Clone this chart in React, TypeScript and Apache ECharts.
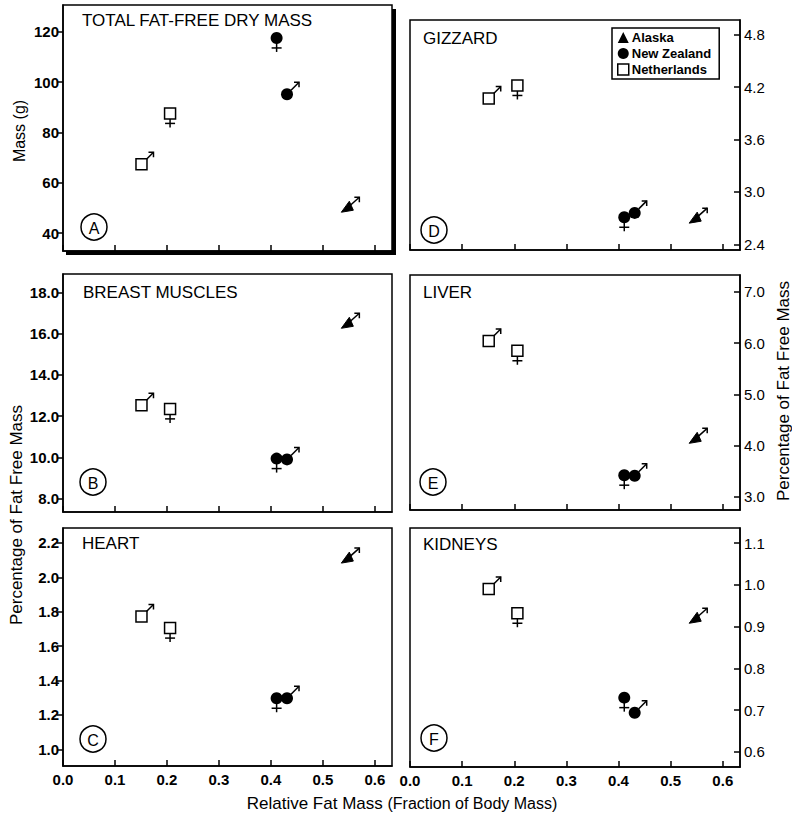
import React, { useEffect, useRef } from 'react';
import * as echarts from 'echarts';

// ---- data ----
const groups = ['Netherlands ♂', 'Netherlands ♀', 'New Zealand ♀', 'New Zealand ♂', 'Alaska ♂'];
const groupSite = ['Netherlands', 'Netherlands', 'New Zealand', 'New Zealand', 'Alaska'];
const groupMale = [1, 0, 0, 1, 1];
const relativeFatMass = [0.151, 0.206, 0.411, 0.431, 0.549];

const totalFatFreeDryMass = [67.4, 87.6, 117.6, 95.2, 50.3];
const gizzard = [4.07, 4.22, 2.71, 2.76, 2.7];
const breastMuscles = [12.53, 12.35, 9.94, 9.9, 16.5];
const liver = [6.04, 5.85, 3.42, 3.41, 4.14];
const heart = [1.772, 1.705, 1.297, 1.297, 2.112];
const kidneys = [0.99, 0.932, 0.73, 0.694, 0.92];

const sites = ['Alaska', 'New Zealand', 'Netherlands'];
const xTicks = [0, 0.1, 0.2, 0.3, 0.4, 0.5, 0.6];
const massTicks = [40, 60, 80, 100, 120];
const gizzardTicks = [2.4, 3.0, 3.6, 4.2, 4.8];
const breastTicks = [8, 10, 12, 14, 16, 18];
const liverTicks = [3, 4, 5, 6, 7];
const heartTicks = [1.0, 1.2, 1.4, 1.6, 1.8, 2.0, 2.2];
const kidneyTicks = [0.6, 0.7, 0.8, 0.9, 1.0, 1.1];

const FONT = 'Liberation Sans, Arial, Helvetica, sans-serif';

const panels = [
  { title: 'TOTAL FAT-FREE DRY MASS', letter: 'A', values: totalFatFreeDryMass, ticks: massTicks, dec: 0, min: 32.9, max: 130.7,
    grid: { left: 63, top: 5, width: 329, height: 246 }, side: 'left', showX: false, titlePos: [82, 20], letterPos: [94, 227] },
  { title: 'GIZZARD', letter: 'D', values: gizzard, ticks: gizzardTicks, dec: 1, min: 2.335, max: 4.97,
    grid: { left: 410, top: 20, width: 330, height: 230 }, side: 'right', showX: false, titlePos: [423, 38], letterPos: [434, 230] },
  { title: 'BREAST MUSCLES', letter: 'B', values: breastMuscles, ticks: breastTicks, dec: 1, min: 7.35, max: 18.89,
    grid: { left: 63, top: 274, width: 329, height: 238 }, side: 'left', showX: false, titlePos: [83, 292], letterPos: [93, 482] },
  { title: 'LIVER', letter: 'E', values: liver, ticks: liverTicks, dec: 1, min: 2.74, max: 7.33,
    grid: { left: 410, top: 275, width: 330, height: 235 }, side: 'right', showX: false, titlePos: [423, 292], letterPos: [433, 482] },
  { title: 'HEART', letter: 'C', values: heart, ticks: heartTicks, dec: 1, min: 0.903, max: 2.287,
    grid: { left: 63, top: 528, width: 329, height: 238 }, side: 'left', showX: true, titlePos: [82, 543], letterPos: [93, 739] },
  { title: 'KIDNEYS', letter: 'F', values: kidneys, ticks: kidneyTicks, dec: 1, min: 0.564, max: 1.136,
    grid: { left: 410, top: 528, width: 330, height: 239 }, side: 'right', showX: true, titlePos: [423, 544], letterPos: [434, 738] },
];

const makeRender = (site: string) => (_params: any, api: any) => {
  const pt = api.coord([api.value(0), api.value(1)]);
  const cx = pt[0];
  const cy = pt[1];
  const male = api.value(2) === 1;
  const ln = { stroke: '#000', lineWidth: 1.5, fill: null };
  const children: any[] = [];
  if (male) {
    let sx = cx + 5, sy = cy - 5, tx = cx + 12, ty = cy - 12;
    if (site === 'New Zealand') { sx = cx + 4; sy = cy - 4; }
    if (site === 'Alaska') { sx = cx + 2; sy = cy - 2; tx = cx + 11; ty = cy - 10; }
    children.push({ type: 'line', shape: { x1: sx, y1: sy, x2: tx, y2: ty }, style: ln });
    children.push({ type: 'polyline', shape: { points: [[tx - 5, ty], [tx, ty], [tx, ty + 5]] }, style: ln });
  } else {
    children.push({ type: 'line', shape: { x1: cx, y1: cy + 5, x2: cx, y2: cy + 14 }, style: ln });
    children.push({ type: 'line', shape: { x1: cx - 5, y1: cy + 10, x2: cx + 5, y2: cy + 10 }, style: ln });
  }
  if (site === 'Netherlands') {
    children.push({ type: 'rect', shape: { x: cx - 5.5, y: cy - 5.5, width: 11, height: 11 }, style: { fill: '#fff', stroke: '#000', lineWidth: 1.5 } });
  } else if (site === 'New Zealand') {
    children.push({ type: 'circle', shape: { cx, cy, r: 6 }, style: { fill: '#000' } });
  } else {
    children.push({ type: 'polygon', shape: { points: [[cx - 7, cy + 5], [cx + 5, cy + 3], [cx + 1, cy - 6]] }, style: { fill: '#000', stroke: '#000', lineWidth: 1, lineJoin: 'round' } });
  }
  return { type: 'group', children };
};

export default function App() {
  const ref = useRef<HTMLDivElement>(null);
  useEffect(() => {
    if (!ref.current) return;
    const chart = echarts.init(ref.current, undefined, { renderer: 'svg' });
    const axisLineStyle = { color: '#000', width: 1.5 };

    const grid = panels.map((p) => ({ ...p.grid, show: true, borderColor: '#000', borderWidth: 1.5, backgroundColor: 'transparent' }));

    const xAxis = panels.map((p, i) => ({
      type: 'value', gridIndex: i, min: 0, max: 0.633,
      axisLine: { show: true, onZero: false, lineStyle: axisLineStyle },
      axisTick: { show: true, inside: true, length: 6, customValues: xTicks, lineStyle: axisLineStyle },
      axisLabel: { show: p.showX, customValues: xTicks, formatter: (v: number) => v.toFixed(1), margin: 6,
        color: '#000', fontSize: 15, fontWeight: 'bold', fontFamily: FONT },
      splitLine: { show: false },
    }));

    const yAxis = panels.map((p, i) => ({
      type: 'value', gridIndex: i, min: p.min, max: p.max, position: p.side,
      axisLine: { show: true, onZero: false, lineStyle: axisLineStyle },
      axisTick: { show: true, inside: p.side === 'right', length: 6, customValues: p.ticks, lineStyle: axisLineStyle },
      axisLabel: { show: true, customValues: p.ticks, formatter: (v: number) => v.toFixed(p.dec), margin: 4,
        color: '#000', fontSize: 15, fontWeight: p.side === 'left' ? 'bold' : 'normal', fontFamily: FONT },
      splitLine: { show: false },
    }));

    const series: any[] = [];
    panels.forEach((p, i) => {
      sites.forEach((s) => {
        const data = groups
          .map((_, g) => g)
          .filter((g) => groupSite[g] === s)
          .map((g) => [relativeFatMass[g], p.values[g], groupMale[g]]);
        series.push({
          type: 'custom', name: s, xAxisIndex: i, yAxisIndex: i, clip: false, silent: true,
          encode: { x: 0, y: 1 },
          itemStyle: s === 'Netherlands' ? { color: '#fff', borderColor: '#000', borderWidth: 1.5 } : { color: '#000' },
          renderItem: makeRender(s), data,
        });
      });
    });

    const graphic: any[] = [];
    // Panel A drop shadow
    graphic.push({ type: 'rect', shape: { x: 66, y: 251, width: 330, height: 4 }, style: { fill: '#000' } });
    graphic.push({ type: 'rect', shape: { x: 392, y: 9, width: 4, height: 246 }, style: { fill: '#000' } });
    panels.forEach((p) => {
      graphic.push({ type: 'text', x: p.titlePos[0], y: p.titlePos[1],
        style: { text: p.title, fill: '#000', font: `17px ${FONT}`, textVerticalAlign: 'middle', textAlign: 'left' } });
      graphic.push({ type: 'circle', shape: { cx: p.letterPos[0], cy: p.letterPos[1], r: 13 }, style: { fill: 'none', stroke: '#000', lineWidth: 1.5 } });
      graphic.push({ type: 'text', x: p.letterPos[0], y: p.letterPos[1] + 1,
        style: { text: p.letter, fill: '#000', font: `16px ${FONT}`, textVerticalAlign: 'middle', textAlign: 'center' } });
    });
    graphic.push({ type: 'text', x: 19, y: 131, rotation: Math.PI / 2,
      style: { text: 'Mass (g)', fill: '#000', font: `16px ${FONT}`, textAlign: 'center', textVerticalAlign: 'middle' } });
    graphic.push({ type: 'text', x: 16, y: 515, rotation: Math.PI / 2,
      style: { text: 'Percentage of Fat Free Mass', fill: '#000', font: `17px ${FONT}`, textAlign: 'center', textVerticalAlign: 'middle' } });
    graphic.push({ type: 'text', x: 783, y: 391, rotation: Math.PI / 2,
      style: { text: 'Percentage of Fat Free Mass', fill: '#000', font: `17px ${FONT}`, textAlign: 'center', textVerticalAlign: 'middle' } });
    graphic.push({ type: 'text', x: 402, y: 803,
      style: { text: '{a|Relative Fat Mass }{b|(Fraction of Body Mass)}', textAlign: 'center', textVerticalAlign: 'middle',
        rich: { a: { fontSize: 17, fontFamily: FONT, fill: '#000' }, b: { fontSize: 16, fontFamily: FONT, fill: '#000' } } } });

    chart.setOption({
      animation: false,
      backgroundColor: '#fff',
      grid, xAxis, yAxis, series, graphic,
      legend: {
        show: true, orient: 'vertical', left: 612, top: 28, selectedMode: false,
        borderColor: '#000', borderWidth: 1.5, padding: [3, 8, 3, 5], itemGap: 3,
        itemWidth: 11, itemHeight: 11,
        textStyle: { fontSize: 13, fontWeight: 'bold', fontFamily: FONT, color: '#000', padding: [0, 0, 0, -2] },
        data: [
          { name: 'Alaska', icon: 'triangle', itemStyle: { color: '#000' } },
          { name: 'New Zealand', icon: 'circle', itemStyle: { color: '#000' } },
          { name: 'Netherlands', icon: 'rect', itemStyle: { color: '#fff', borderColor: '#000', borderWidth: 1.5 } },
        ],
      },
    });
    return () => chart.dispose();
  }, []);
  return <div ref={ref} style={{ position: 'fixed', left: 0, top: 0, width: 792, height: 815 }} />;
}
